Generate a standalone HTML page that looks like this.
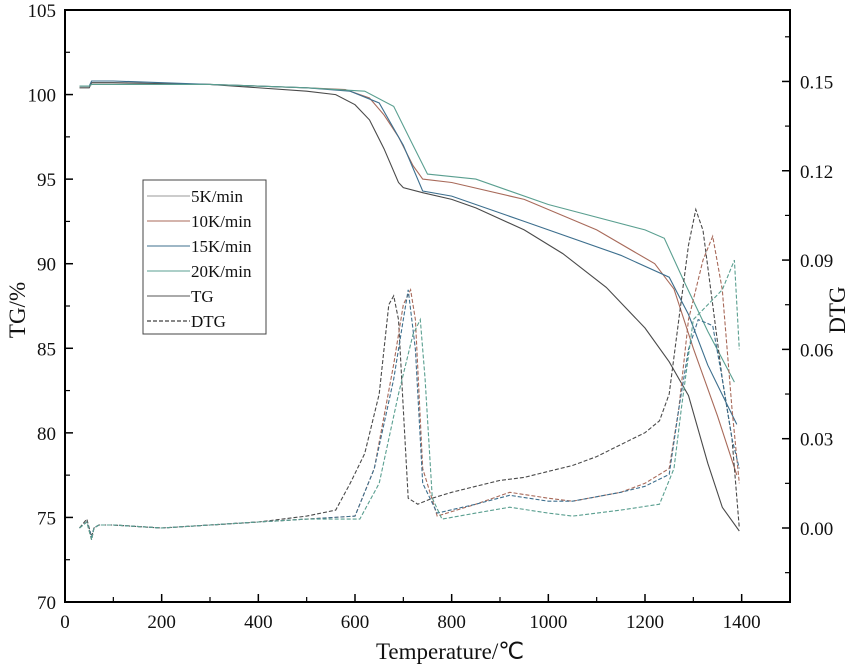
<!DOCTYPE html>
<html><head><meta charset="utf-8"><style>
body{margin:0;background:#fff}
svg text{font-family:"Liberation Serif",serif;fill:#111}
</style></head><body>
<svg id="c" width="850" height="667" xmlns="http://www.w3.org/2000/svg">
<g id="plot"></g>
<g id="axes"></g>
<text x="450" y="659" font-size="23" text-anchor="middle">Temperature/℃</text>
<text transform="translate(25,310) rotate(-90)" font-size="23" text-anchor="middle">TG/%</text>
<text transform="translate(845,310) rotate(-90)" font-size="23" text-anchor="middle">DTG</text>
<g id="legend"></g>
</svg>
<script>
const xTicks=[0,200,400,600,800,1000,1200,1400];
const yTicks=[70,75,80,85,90,95,100,105];
const y2Ticks=[0.00,0.03,0.06,0.09,0.12,0.15];
const y2Labels=["0.00","0.03","0.06","0.09","0.12","0.15"];
const legendLabels=["5K/min","10K/min","15K/min","20K/min","TG","DTG"];
const colors=["#4a4a4a","#a86a5a","#3d6f8e","#5a9f90"];

const tgT5=[30,50,55,100,300,500,560,600,630,660,690,700,740,800,850,950,1030,1120,1200,1250,1290,1330,1360,1395];
const tgV5=[100.4,100.4,100.7,100.7,100.6,100.2,100.0,99.4,98.5,96.8,94.8,94.5,94.2,93.8,93.3,92.0,90.6,88.6,86.2,84.2,82.2,78.2,75.6,74.2];
const tgT10=[30,50,55,100,300,500,580,630,660,690,720,740,800,950,1100,1220,1260,1300,1350,1390];
const tgV10=[100.5,100.5,100.6,100.6,100.6,100.4,100.3,99.8,98.8,97.5,95.8,95.0,94.8,93.8,92.0,90.0,88.5,85.0,81.0,77.5];
const tgT15=[30,50,55,100,300,500,590,650,700,740,800,950,1150,1250,1290,1330,1390];
const tgV15=[100.5,100.5,100.8,100.8,100.6,100.4,100.2,99.5,97.0,94.3,94.0,92.5,90.5,89.2,87.0,84.0,80.5];
const tgT20=[30,50,55,100,300,500,620,680,720,750,850,1000,1200,1240,1280,1330,1385];
const tgV20=[100.5,100.5,100.6,100.6,100.6,100.4,100.2,99.3,97.0,95.3,95.0,93.5,92.0,91.5,89.0,86.0,83.0];

const dT5=[30,45,55,60,70,100,200,300,400,500,560,590,620,650,670,680,690,700,710,730,760,800,850,900,950,1000,1050,1100,1150,1200,1230,1250,1270,1290,1305,1320,1340,1360,1380,1395];
const dV5=[0.0,0.003,-0.003,0.0,0.001,0.001,0.0,0.001,0.002,0.004,0.006,0.015,0.025,0.045,0.075,0.078,0.07,0.04,0.01,0.008,0.01,0.012,0.014,0.016,0.017,0.019,0.021,0.024,0.028,0.032,0.036,0.045,0.07,0.095,0.107,0.1,0.075,0.05,0.03,0.0];
const dT10=[30,45,55,60,70,100,200,300,400,500,600,640,680,700,715,725,740,770,850,920,1000,1050,1150,1200,1250,1270,1290,1320,1340,1360,1380,1395];
const dV10=[0.0,0.002,-0.004,0.0,0.001,0.001,0.0,0.001,0.002,0.003,0.004,0.02,0.055,0.075,0.08,0.07,0.02,0.004,0.008,0.012,0.01,0.009,0.012,0.015,0.02,0.04,0.07,0.09,0.098,0.08,0.04,0.015];
const dT15=[30,45,55,60,70,100,200,300,400,500,600,640,680,700,710,725,740,770,850,920,1000,1050,1150,1200,1250,1270,1290,1310,1340,1360,1380,1395];
const dV15=[0.0,0.002,-0.003,0.0,0.001,0.001,0.0,0.001,0.002,0.003,0.004,0.02,0.05,0.07,0.08,0.06,0.015,0.005,0.008,0.011,0.009,0.009,0.012,0.014,0.018,0.04,0.06,0.07,0.068,0.05,0.03,0.02];
const dT20=[30,45,55,60,70,100,200,300,400,500,610,650,690,720,735,745,760,780,850,920,1000,1050,1150,1230,1260,1275,1300,1330,1360,1385,1395];
const dV20=[0.0,0.002,-0.004,0.0,0.001,0.001,0.0,0.001,0.002,0.003,0.003,0.015,0.045,0.065,0.07,0.05,0.01,0.003,0.005,0.007,0.005,0.004,0.006,0.008,0.02,0.04,0.07,0.075,0.08,0.09,0.06];

const X0=65,X1=790,Y0=10,Y1=602;
const x=t=>X0+(t-0)/1500*(X1-X0);
const y=v=>Y1-(v-70)/35*(Y1-Y0);
const y2=v=>528-v*2977;
const NS="http://www.w3.org/2000/svg";
function mk(tag,attrs,parent){const e=document.createElementNS(NS,tag);for(const k in attrs)e.setAttribute(k,attrs[k]);parent.appendChild(e);return e;}
const plot=document.getElementById('plot'),axes=document.getElementById('axes'),lg=document.getElementById('legend');

function line(T,V,fy,col,dash,name){
  const d=T.map((t,i)=>(i?'L':'M')+x(t).toFixed(1)+','+fy(V[i]).toFixed(1)).join('');
  const p=mk('path',{d:d,fill:'none',stroke:col,'stroke-width':1.1},plot);
  if(dash)p.setAttribute('stroke-dasharray','4,2');
  
  
}
line(tgT5,tgV5,y,colors[0],false,'tg-5k-line');
line(tgT10,tgV10,y,colors[1],false,'tg-10k-line');
line(tgT15,tgV15,y,colors[2],false,'tg-15k-line');
line(tgT20,tgV20,y,colors[3],false,'tg-20k-line');
line(dT5,dV5,y2,colors[0],true,'dtg-5k-line');
line(dT10,dV10,y2,colors[1],true,'dtg-10k-line');
line(dT15,dV15,y2,colors[2],true,'dtg-15k-line');
line(dT20,dV20,y2,colors[3],true,'dtg-20k-line');

const frame=mk('rect',{x:X0,y:Y0,width:X1-X0,height:Y1-Y0,fill:'none',stroke:'#000','stroke-width':2},axes);


xTicks.forEach(t=>{
  mk('line',{x1:x(t),x2:x(t),y1:Y1,y2:Y1-8,stroke:'#000','stroke-width':1.5},axes);
  mk('line',{x1:x(t+100),x2:x(t+100),y1:Y1,y2:Y1-5,stroke:'#000','stroke-width':1.2},axes);
  const tx=mk('text',{x:x(t),y:628,'font-size':19,'text-anchor':'middle'},axes);tx.textContent=t;
  
  
});
yTicks.forEach(v=>{
  mk('line',{x1:X0,x2:X0+8,y1:y(v),y2:y(v),stroke:'#000','stroke-width':1.5},axes);
  if(v<105)mk('line',{x1:X0,x2:X0+5,y1:y(v+2.5),y2:y(v+2.5),stroke:'#000','stroke-width':1.2},axes);
  const tx=mk('text',{x:56,y:y(v)+7,'font-size':19,'text-anchor':'end'},axes);tx.textContent=v;
  
  
});
y2Ticks.forEach((v,i)=>{
  mk('line',{x1:X1,x2:X1-8,y1:y2(v),y2:y2(v),stroke:'#000','stroke-width':1.5},axes);
  mk('line',{x1:X1,x2:X1-5,y1:y2(v+0.015),y2:y2(v+0.015),stroke:'#000','stroke-width':1.2},axes);
  if(i==0)mk('line',{x1:X1,x2:X1-5,y1:y2(-0.015),y2:y2(-0.015),stroke:'#000','stroke-width':1.2},axes);
  const tx=mk('text',{x:800,y:y2(v)+7,'font-size':19},axes);tx.textContent=y2Labels[i];
  
  
});

const box=mk('rect',{x:143,y:180,width:123,height:154,fill:'#fff',stroke:'#444','stroke-width':1},lg);


const lcols=[ '#999', colors[1], colors[2], colors[3], '#555', '#111'];
legendLabels.forEach((s,i)=>{
  const yy=196+i*25;
  const ln=mk('line',{x1:147,x2:190,y1:yy,y2:yy,stroke:lcols[i],'stroke-width':1},lg);
  if(i==5)ln.setAttribute('stroke-dasharray','4,2');
  const tx=mk('text',{x:191,y:yy+6,'font-size':17},lg);tx.textContent=s;
  
  
});
</script>
</body></html>
